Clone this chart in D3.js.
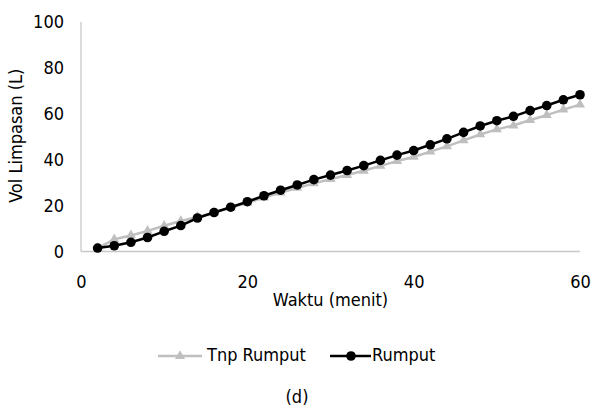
<!DOCTYPE html>
<html>
<head>
<meta charset="utf-8">
<script src="https://cdn.jsdelivr.net/npm/d3@7"></script>
<style>
  html, body { margin: 0; padding: 0; background: #fff; }
  svg { display: block; font-family: "DejaVu Sans Condensed", "DejaVu Sans", sans-serif; }
</style>
</head>
<body>
<svg id="chart" width="594" height="411"></svg>
<script>
// Runoff volume over time, with and without grass cover
const minutes = [2, 4, 6, 8, 10, 12, 14, 16, 18, 20, 22, 24, 26, 28, 30,
                 32, 34, 36, 38, 40, 42, 44, 46, 48, 50, 52, 54, 56, 58, 60];
const tnpRumput = [1.5, 5.3, 7.0, 9.0, 11.2, 13.3, 15.1, 17.0, 19.1, 21.2, 23.5, 25.7, 27.7, 29.7, 31.5,
                   33.3, 35.2, 37.3, 39.4, 41.2, 43.5, 45.8, 48.4, 51.0, 53.2, 54.9, 57.3, 59.4, 61.8, 64.0];
const rumput = [1.5, 2.5, 4.0, 6.1, 8.8, 11.3, 14.6, 17.0, 19.3, 21.7, 24.3, 26.7, 29.0, 31.3, 33.3,
                35.3, 37.4, 39.7, 42.0, 44.0, 46.5, 49.1, 51.9, 54.7, 57.0, 58.9, 61.4, 63.6, 66.1, 68.3];
const xTicks = [0, 20, 40, 60];
const yTicks = [0, 20, 40, 60, 80, 100];
const seriesNames = ["Tnp Rumput", "Rumput"];

const svg = d3.select("#chart");
const axisColor = "#c8c8c8";
const grey = "#bfbfbf";
const fontSize = 18;
const fontFamily = "'DejaVu Sans Condensed', 'DejaVu Sans', sans-serif";

const x = d3.scaleLinear().domain([0, 60]).range([81, 580]);
const y = d3.scaleLinear().domain([0, 100]).range([251.5, 22]);

// axis lines
svg.append("line").attr("x1", x(0)).attr("x2", x(0)).attr("y1", y(100)).attr("y2", y(0))
  .attr("stroke", axisColor).attr("stroke-width", 1.3);
svg.append("line").attr("x1", x(0)).attr("x2", x(60)).attr("y1", y(0)).attr("y2", y(0))
  .attr("stroke", axisColor).attr("stroke-width", 1.3);

// tick labels
const xAxis = d3.axisBottom(x).tickValues(xTicks).tickSize(0).tickPadding(0);
const gx = svg.append("g").attr("transform", "translate(0,288)").call(xAxis);
gx.select(".domain").remove();
gx.selectAll("text").attr("font-size", fontSize).attr("font-family", fontFamily)
  .attr("fill", "#000").attr("dy", "0");

const yAxis = d3.axisLeft(y).tickValues(yTicks).tickSize(0).tickPadding(0);
const gy = svg.append("g").attr("transform", "translate(64,0)").call(yAxis);
gy.select(".domain").remove();
gy.selectAll("text").attr("font-size", fontSize).attr("font-family", fontFamily)
  .attr("fill", "#000");

// axis titles
svg.append("text").attr("x", x(30)).attr("y", 301).attr("text-anchor", "middle")
  .attr("dominant-baseline", "middle").attr("font-size", fontSize).text("Waktu (menit)");
svg.append("text").attr("transform", `translate(17,${y(50) - 1}) rotate(-90)`)
  .attr("text-anchor", "middle").attr("dominant-baseline", "middle")
  .attr("font-size", fontSize).text("Vol Limpasan (L)");

const line = d3.line().x(d => x(d[0])).y(d => y(d[1]));
const tri = d3.symbol().type(d3.symbolTriangle).size(44);

// series without grass: grey line with triangles
const dTnp = minutes.map((m, i) => [m, tnpRumput[i]]);
svg.append("path").datum(dTnp).attr("d", line).attr("fill", "none")
  .attr("stroke", grey).attr("stroke-width", 2.5).attr("stroke-linejoin", "round");
svg.append("g").selectAll("path").data(dTnp).join("path")
  .attr("d", tri).attr("transform", d => `translate(${x(d[0])},${y(d[1])})`).attr("fill", grey);

// series with grass: black line with circles
const dRum = minutes.map((m, i) => [m, rumput[i]]);
svg.append("path").datum(dRum).attr("d", line).attr("fill", "none")
  .attr("stroke", "#000").attr("stroke-width", 2.5).attr("stroke-linejoin", "round");
svg.append("g").selectAll("circle").data(dRum).join("circle")
  .attr("cx", d => x(d[0])).attr("cy", d => y(d[1])).attr("r", 4.8).attr("fill", "#000");

// legend
const ly = 356;
const legend = svg.append("g");
legend.append("line").attr("x1", 158).attr("x2", 202).attr("y1", ly).attr("y2", ly)
  .attr("stroke", grey).attr("stroke-width", 2.5);
legend.append("path").attr("d", tri).attr("transform", `translate(180,${ly})`).attr("fill", grey);
legend.append("text").attr("x", 207).attr("y", ly).attr("dominant-baseline", "middle")
  .attr("font-size", fontSize).text(seriesNames[0]);
legend.append("line").attr("x1", 330).attr("x2", 371).attr("y1", ly).attr("y2", ly)
  .attr("stroke", "#000").attr("stroke-width", 2.5);
legend.append("circle").attr("cx", 351).attr("cy", ly).attr("r", 4.8).attr("fill", "#000");
legend.append("text").attr("x", 372).attr("y", ly).attr("dominant-baseline", "middle")
  .attr("font-size", fontSize).text(seriesNames[1]);

// panel label
svg.append("text").attr("x", 297).attr("y", 398).attr("text-anchor", "middle")
  .attr("dominant-baseline", "middle").attr("font-size", fontSize).text("(d)");
</script>
</body>
</html>
